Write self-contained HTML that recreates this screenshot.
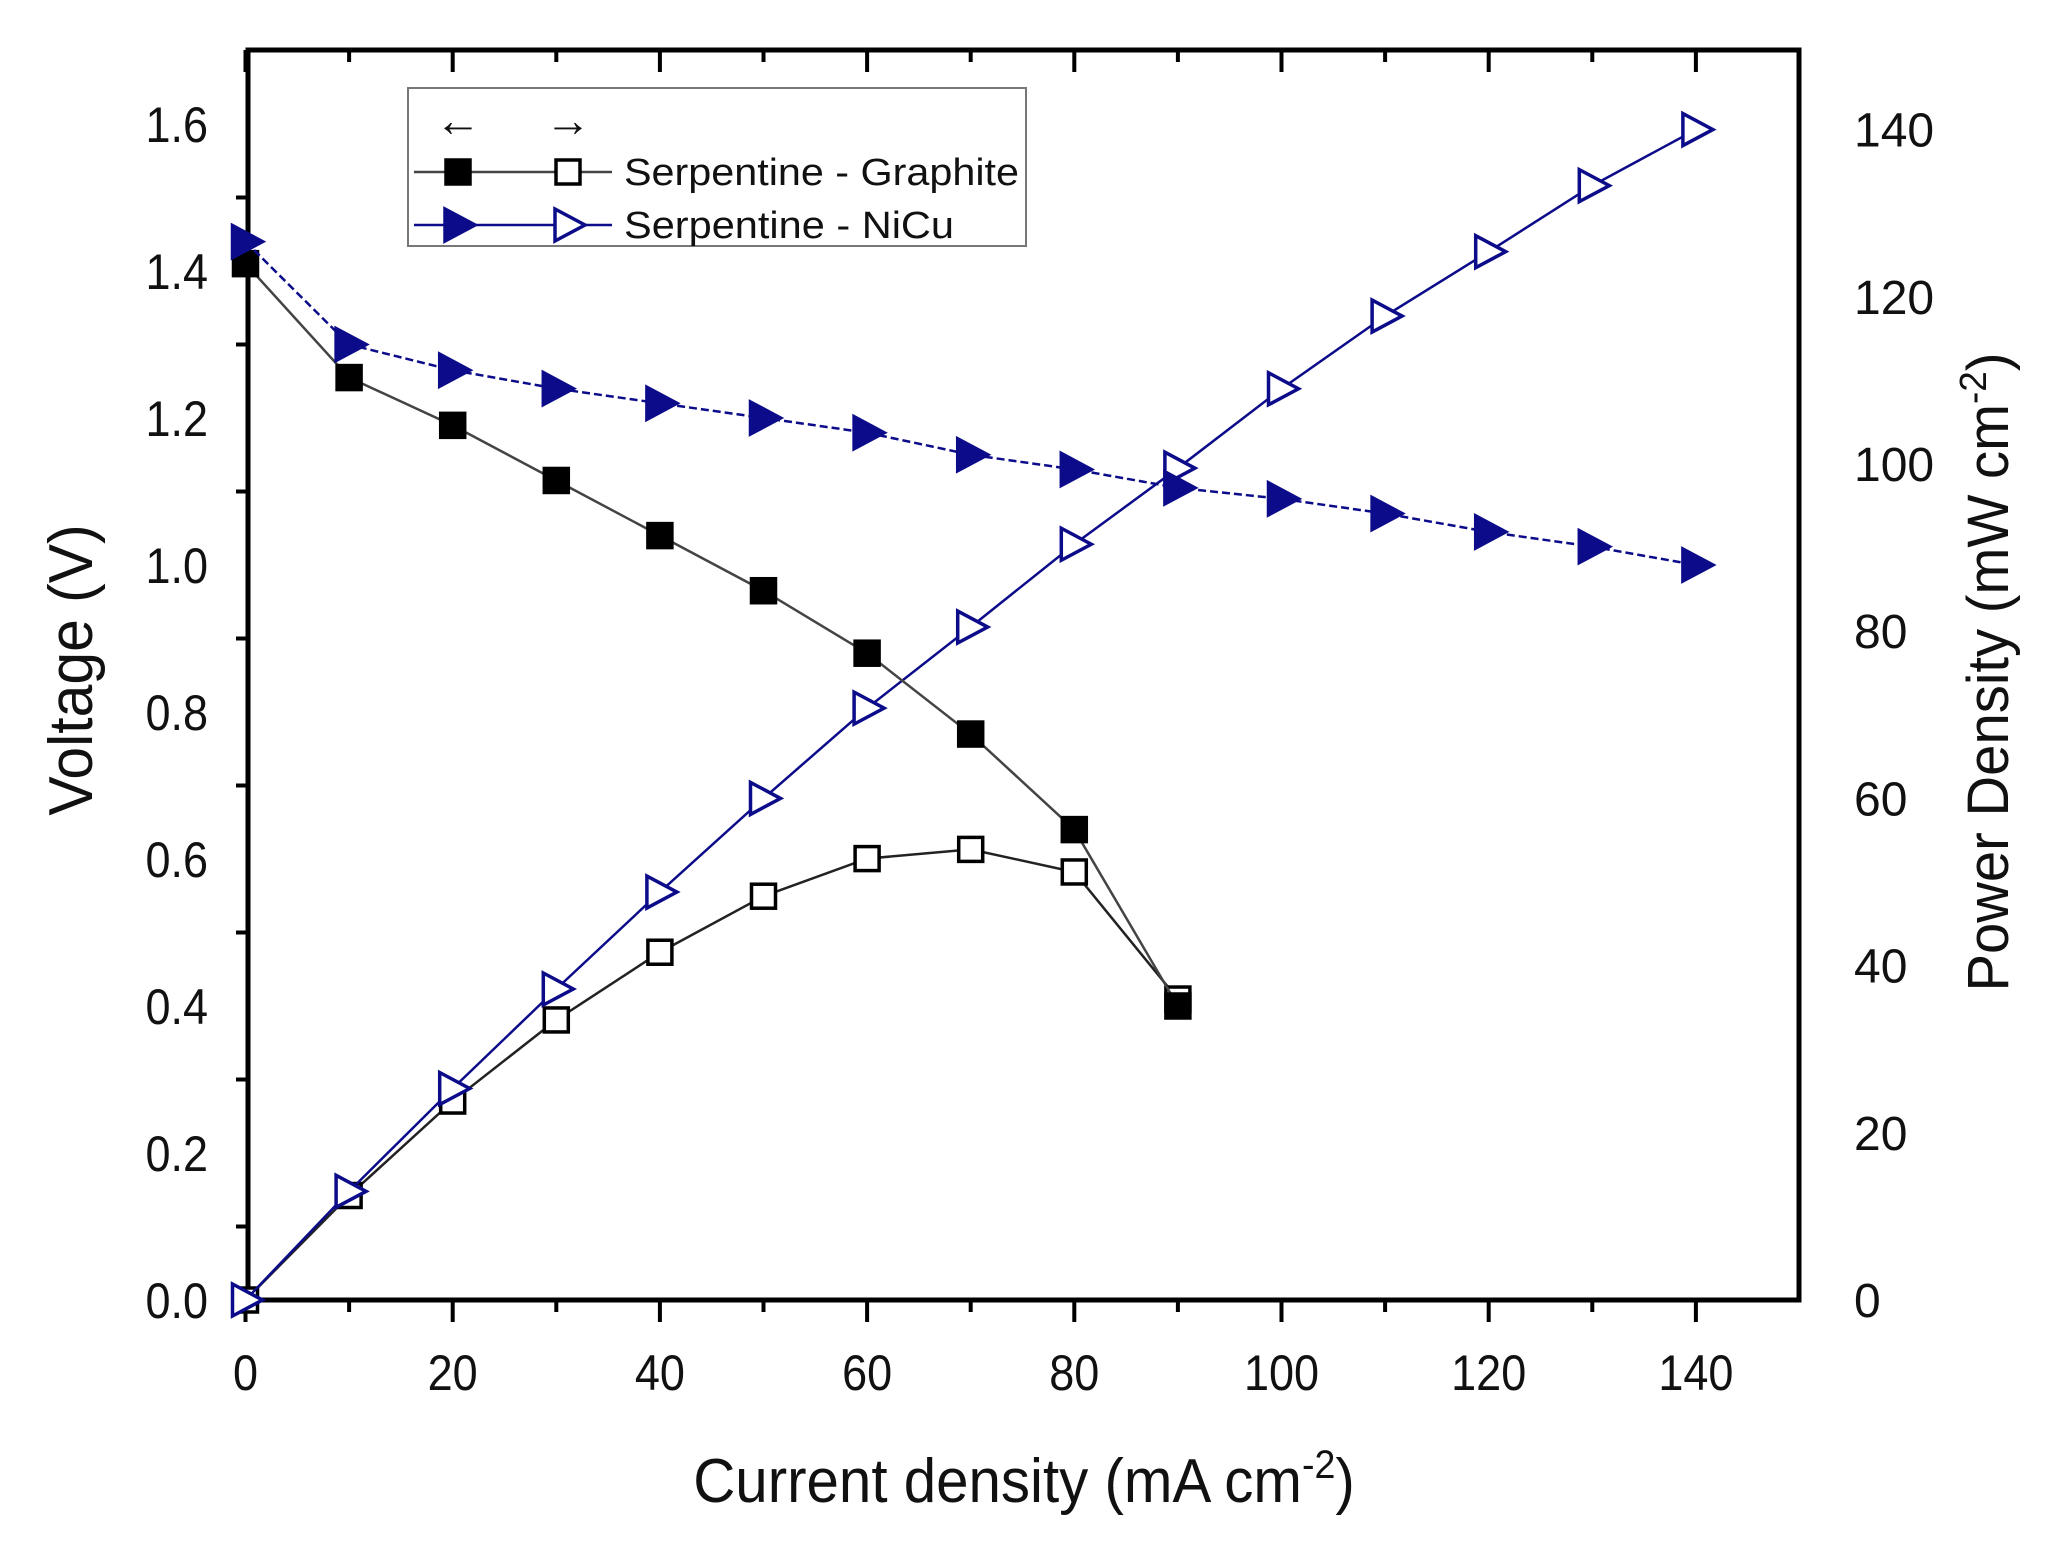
<!DOCTYPE html>
<html><head><meta charset="utf-8"><style>
html,body{margin:0;padding:0;background:#fff}
svg text{font-family:"Liberation Sans",sans-serif;fill:#111}
</style></head><body>
<svg id="chart" width="2051" height="1536" viewBox="0 0 2051 1536" xmlns="http://www.w3.org/2000/svg">
<g id="plot"></g>
</svg>
<script>
const currents = [0,10,20,30,40,50,60,70,80,90,100,110,120,130,140];
const graphiteVoltage = [1.41,1.255,1.19,1.115,1.04,0.965,0.88,0.77,0.64,0.40];
const graphitePower = [0,12.5,23.8,33.5,41.6,48.3,52.8,53.9,51.2,36];
const nicuVoltage = [1.44,1.30,1.265,1.24,1.22,1.20,1.18,1.15,1.13,1.105,1.09,1.07,1.045,1.025,1.00];
const nicuPower = [0,13,25.3,37.2,48.8,60,70.8,80.5,90.4,99.5,109,117.7,125.4,133.3,140];
const xTicks = [0,20,40,60,80,100,120,140];
const yLeftTicks = [0,0.2,0.4,0.6,0.8,1.0,1.2,1.4,1.6];
const yRightTicks = [0,20,40,60,80,100,120,140];

const L=248,R=1799,T=50,B=1300;
const X0=245.5, XS=10.36;
function sx(v){return X0+v*XS;}
function syL(v){return B-v*735;}
function syR(v){return B-v*8.36;}
const NS="http://www.w3.org/2000/svg";
const g=document.getElementById('plot');
function el(tag,attrs,parent){const e=document.createElementNS(NS,tag);for(const k in attrs)e.setAttribute(k,attrs[k]);(parent||g).appendChild(e);return e;}
const NAVY='#0c0c8a';

const frame=el('rect',{x:L,y:T,width:R-L,height:B-T,fill:'none',stroke:'#000','stroke-width':5});



for(let v=0;v<=140;v+=10){
  const major=v%20===0;
  const t=el('line',{x1:sx(v),x2:sx(v),y1:B,y2:B+(major?22:12),stroke:'#000','stroke-width':4});
  
  
  const t2=el('line',{x1:sx(v),x2:sx(v),y1:T,y2:T+(major?22:12),stroke:'#000','stroke-width':4});
  
  
}
xTicks.forEach(v=>{
  const t=el('text',{x:sx(v),y:1390,'font-size':50,'text-anchor':'middle',transform:'translate('+(sx(v)*0.1)+',0) scale(0.9,1)'});
  t.textContent=v;
  
  
});
for(let i=1;i<=15;i+=2){
  const v=i/10;
  const t=el('line',{x1:L-12,x2:L,y1:syL(v),y2:syL(v),stroke:'#000','stroke-width':4});
  
  
}
yLeftTicks.forEach(v=>{
  const t=el('text',{x:208,y:syL(v)+18,'font-size':50,'text-anchor':'end',transform:'translate(20.8,0) scale(0.9,1)'});
  t.textContent=v.toFixed(1);
  
  
});
yRightTicks.forEach(v=>{
  const t=el('text',{x:1854,y:syR(v)+17,'font-size':48,'text-anchor':'start'});
  t.textContent=v;
  
  
});

let a=el('text',{x:0,y:0,'font-size':62,'text-anchor':'middle',transform:'translate(92,670) rotate(-90) scale(0.95,1)'});
a.textContent='Voltage (V)';


a=el('text',{x:0,y:0,'font-size':58,'text-anchor':'middle',transform:'translate(2008,672) rotate(-90) scale(0.97,1)'});
a.innerHTML='Power Density (mW cm<tspan dy="-22" font-size="38">-2</tspan><tspan dy="22">)</tspan>';


a=el('text',{x:0,y:0,'font-size':62,'text-anchor':'middle',transform:'translate(1024,1502) scale(0.94,1)'});
a.innerHTML='Current density (mA cm<tspan dy="-24" font-size="40">-2</tspan><tspan dy="24">)</tspan>';



function drawSeries(vals,yf,color,dash,marker,filled,name){
  const pts=vals.map((v,i)=>sx(currents[i])+','+yf(v)).join(' ');
  const pl=el('polyline',{points:pts,fill:'none',stroke:color,'stroke-width':2.5,'stroke-dasharray':dash});
  
  
  vals.forEach((v,i)=>{
    const x=sx(currents[i]),y=yf(v);
    let m;
    if(marker==='sq'){
      m=el('rect',{x:x-12,y:y-12,width:24,height:24,fill:filled?'#000':'#fff',stroke:'#000','stroke-width':3.5});
    }else{
      m=el('polygon',{points:(x-13)+','+(y-16)+' '+(x+17)+','+y+' '+(x-13)+','+(y+16),fill:filled?color:'#fff',stroke:color,'stroke-width':3.5});
    }
    
    
  });
}
drawSeries(graphitePower,syR,'#222','none','sq',false,'graphite-power');
drawSeries(nicuPower,syR,NAVY,'none','tri',false,'nicu-power');
drawSeries(graphiteVoltage,syL,'#444','none','sq',true,'graphite-voltage');
drawSeries(nicuVoltage,syL,NAVY,'8,4','tri',true,'nicu-voltage');

const lg=el('g',{});


el('rect',{x:408,y:88,width:618,height:158,fill:'#fff',stroke:'#777','stroke-width':2},lg);
let ar=el('text',{x:458,y:136,'font-size':46,'text-anchor':'middle'},lg);ar.textContent='←';


ar=el('text',{x:568,y:136,'font-size':46,'text-anchor':'middle'},lg);ar.textContent='→';


function legRow(y,color,marker,label,name){
  el('line',{x1:414,x2:612,y1:y,y2:y,stroke:color,'stroke-width':2.5},lg);
  [[458,true],[568,false]].forEach(([x,f])=>{
    if(marker==='sq') el('rect',{x:x-12,y:y-12,width:24,height:24,fill:f?'#000':'#fff',stroke:'#000','stroke-width':3.5},lg);
    else el('polygon',{points:(x-13)+','+(y-16)+' '+(x+17)+','+y+' '+(x-13)+','+(y+16),fill:f?color:'#fff',stroke:color,'stroke-width':3.5},lg);
  });
  const t=el('text',{x:624,y:y+13,'font-size':38,textLength:395,lengthAdjust:'spacingAndGlyphs'},lg);
  if(label.indexOf('NiCu')>=0) t.setAttribute('textLength',330);
  t.textContent=label;
  
  
}
legRow(172,'#444','sq','Serpentine - Graphite','legend-entry-graphite');
legRow(225,NAVY,'tri','Serpentine - NiCu','legend-entry-nicu');
</script>
</body></html>
